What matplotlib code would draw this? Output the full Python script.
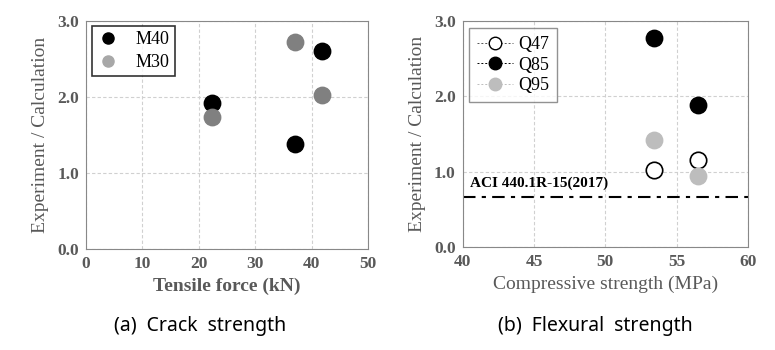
import matplotlib.pyplot as plt
from matplotlib.lines import Line2D

# (a) crack strength
tensile_force = [22.3, 37.1, 41.9]
m40_ratio = [1.92, 1.38, 2.60]
m30_ratio = [1.73, 2.72, 2.03]

# (b) flexural strength
comp_strength = [53.4, 56.5]
q47_ratio = [1.02, 1.15]
q85_ratio = [2.78, 1.89]
q95_ratio = [1.42, 0.95]
aci_limit = 0.66

gray_txt = "#595959"
serif = ["Liberation Serif", "DejaVu Serif"]

fig = plt.figure(figsize=(7.75, 3.5), dpi=100)
ax1 = fig.add_axes([0.111, 0.289, 0.364, 0.651])
ax2 = fig.add_axes([0.597, 0.294, 0.368, 0.646])


def style_ticks(ax):
    for lab in ax.get_xticklabels() + ax.get_yticklabels():
        lab.set_fontfamily(serif)
        lab.set_fontweight("bold")
        lab.set_fontsize(12.5)


for ax in (ax1, ax2):
    ax.set_ylim(0, 3)
    ax.set_yticks([0, 1, 2, 3])
    ax.set_yticklabels(["0.0", "1.0", "2.0", "3.0"])
    ax.grid(True, ls=(0, (3, 2)), color="#d0d0d0", lw=0.8)
    ax.set_axisbelow(True)
    ax.tick_params(length=0, pad=5, colors=gray_txt)
    for s in ax.spines.values():
        s.set_color("#888888")
    ax.set_ylabel("Experiment / Calculation", family=serif, fontsize=14,
                  color=gray_txt, labelpad=6)

# panel (a)
ax1.set_xlim(0, 50)
ax1.set_xticks(range(0, 51, 10))
style_ticks(ax1)
ax1.scatter(tensile_force, m40_ratio, s=140, color="black", zorder=3, label="M40")
ax1.scatter(tensile_force, m30_ratio, s=140, color="#808080", zorder=3, label="M30")
ax1.set_xlabel("Tensile force (kN)", family=serif, fontsize=14, color=gray_txt,
               fontweight="bold", labelpad=4)
h1 = [Line2D([], [], marker="o", ls="none", ms=8, color="black"),
      Line2D([], [], marker="o", ls="none", ms=8, color="#a8a8a8")]
leg1 = ax1.legend(h1, ["M40", "M30"], loc="upper left", bbox_to_anchor=(0.021, 0.978),
                  borderaxespad=0, prop={"family": serif, "size": 13}, fancybox=False,
                  edgecolor="black", borderpad=0.3, handlelength=1.2,
                  handletextpad=0.9, labelspacing=0.3)
leg1.get_frame().set_linewidth(1.2)

# panel (b)
ax2.set_xlim(40, 60)
ax2.set_xticks(range(40, 61, 5))
style_ticks(ax2)
ax2.axhline(aci_limit, color="black", lw=1.5, ls=(0, (6, 3, 2, 3)), zorder=2)
ax2.text(40.5, aci_limit + 0.1, "ACI 440.1R-15(2017)", family=serif, fontsize=11,
         fontweight="bold", va="bottom", ha="left")
ax2.scatter(comp_strength, q47_ratio, s=140, facecolor="white", edgecolor="black",
            lw=1.2, zorder=3)
ax2.scatter(comp_strength, q85_ratio, s=140, color="black", zorder=3)
ax2.scatter(comp_strength, q95_ratio, s=140, color="#bdbdbd", zorder=3)
ax2.set_xlabel("Compressive strength (MPa)", family=serif, fontsize=14,
               color=gray_txt, labelpad=4)
h2 = [Line2D([], [], marker="o", ls=(0, (2, 2)), lw=0.7, ms=9, mfc="white", mec="black", color="#555555"),
      Line2D([], [], marker="o", ls=(0, (2, 2)), lw=0.7, ms=9, color="black"),
      Line2D([], [], marker="o", ls=(0, (2, 2)), lw=0.7, ms=9, color="#bdbdbd")]
leg2 = ax2.legend(h2, ["Q47", "Q85", "Q95"], loc="upper left", bbox_to_anchor=(0.021, 0.969),
                  borderaxespad=0, prop={"family": serif, "size": 13}, fancybox=False,
                  edgecolor="#777777", borderpad=0.45, handlelength=2.0,
                  handletextpad=0.3, labelspacing=0.2)
leg2.get_frame().set_linewidth(1.0)

fig.text(0.258, 0.055, "(a)  Crack  strength", ha="center", fontsize=14,
         family=["Noto Sans", "DejaVu Sans"])
fig.text(0.768, 0.055, "(b)  Flexural  strength", ha="center", fontsize=14,
         family=["Noto Sans", "DejaVu Sans"])

fig.savefig("out.png", dpi=100)
